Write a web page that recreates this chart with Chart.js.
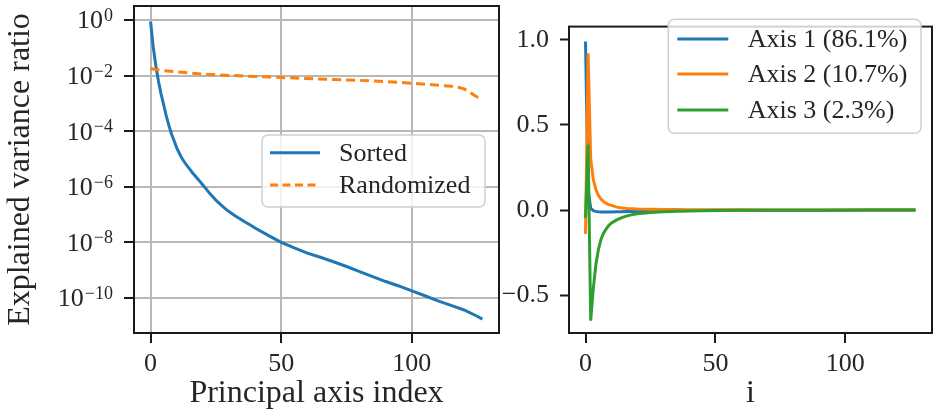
<!DOCTYPE html>
<html><head><meta charset="utf-8">
<script src="https://cdn.jsdelivr.net/npm/chart.js@4"></script>
<style>
html,body{margin:0;padding:0;background:#fff;}
body{width:938px;height:416px;position:relative;overflow:hidden;}
#c1{position:absolute;left:0;top:0;}
#c2{position:absolute;left:490px;top:0;}
</style></head><body>
<canvas id="c1" width="510" height="416"></canvas>
<canvas id="c2" width="448" height="416"></canvas>
<script>
const FONT = "'Liberation Serif', 'Times New Roman', serif";

// ---- left panel data ----
const sortedIdx = [0,1,2,3,4,5,6,7,8,9,10,11,12,13,14,15,16,17,18,19,20,21,22,23,24,25,26,27,28,29,30,32,34,36,38,40,45,50,55,60,65,70,75,80,85,90,95,100,105,110,115,120,125,127];
const sortedRatio = [0.861,0.107,0.023,6.3e-3,2.2e-3,8.9e-4,3.5e-4,1.6e-4,7.9e-5,4.5e-5,2.5e-5,1.6e-5,1.05e-5,7.6e-6,5.6e-6,4.3e-6,3.2e-6,2.5e-6,1.95e-6,1.5e-6,1.15e-6,8.9e-7,6.8e-7,5.3e-7,4.2e-7,3.3e-7,2.7e-7,2.2e-7,1.8e-7,1.5e-7,1.29e-7,9.5e-8,7.2e-8,5.5e-8,4.3e-8,3.3e-8,1.78e-8,1.0e-8,6.3e-9,4.1e-9,2.9e-9,2.0e-9,1.35e-9,8.9e-10,5.9e-10,3.9e-10,2.7e-10,1.8e-10,1.2e-10,7.9e-11,5.4e-11,3.7e-11,2.2e-11,1.74e-11];
const randIdx = [0,2,5,10,20,30,40,50,60,70,80,90,100,110,115,118,120,122,124,126,127];
const randRatio = [0.018,0.0165,0.0148,0.0135,0.0112,0.0101,0.0093,0.0085,0.0078,0.0072,0.0067,0.0060,0.0053,0.0045,0.0041,0.0037,0.0033,0.0026,0.0019,0.0015,0.0013];
const leftYTicks = [1, 1e-2, 1e-4, 1e-6, 1e-8, 1e-10];
const xTicks = [0, 50, 100];
const leftLegend = ['Sorted', 'Randomized'];

// ---- right panel data ----
const axisIdx = [0,1,2,3,4,5,6,7,8,9,10,12,14,16,18,20,25,30,35,40,50,60,70,80,90,100,110,120,127];
const axis1 = [0.99,0.12,0.01,-0.004,-0.008,-0.010,-0.011,-0.011,-0.011,-0.011,-0.011,-0.010,-0.010,-0.009,-0.008,-0.008,-0.006,-0.005,-0.004,-0.003,-0.002,-0.0015,-0.001,-0.0008,-0.0006,-0.0005,-0.0004,-0.0003,-0.0003];
const axis2 = [-0.14,0.92,0.30,0.18,0.12,0.085,0.063,0.049,0.039,0.032,0.027,0.017,0.012,0.009,0.0075,0.006,0.004,0.003,0.0025,0.002,0.0015,0.0012,0.0009,0.0007,0.0006,0.0005,0.0004,0.0003,0.0003];
const axis3 = [-0.045,0.385,-0.65,-0.46,-0.32,-0.23,-0.17,-0.135,-0.11,-0.09,-0.076,-0.058,-0.044,-0.034,-0.027,-0.022,-0.014,-0.010,-0.007,-0.005,-0.003,-0.002,-0.0015,-0.001,-0.0008,-0.0006,-0.0005,-0.0004,-0.0003];
const rightYTicks = [-0.5, 0, 0.5, 1.0];
const rightLegend = ['Axis 1 (86.1%)', 'Axis 2 (10.7%)', 'Axis 3 (2.3%)'];

const BLUE = '#1f77b4', ORANGE = '#ff7f0e', GREEN = '#2ca02c';
const INK = '#262626';

Chart.defaults.font.family = FONT;
Chart.defaults.color = INK;

function pts(xs, ys) { return xs.map((x, k) => ({x: x, y: ys[k]})); }

function roundRect(ctx, x, y, w, h, r) {
  ctx.beginPath();
  ctx.moveTo(x + r, y);
  ctx.lineTo(x + w - r, y); ctx.arcTo(x + w, y, x + w, y + r, r);
  ctx.lineTo(x + w, y + h - r); ctx.arcTo(x + w, y + h, x + w - r, y + h, r);
  ctx.lineTo(x + r, y + h); ctx.arcTo(x, y + h, x, y + h - r, r);
  ctx.lineTo(x, y + r); ctx.arcTo(x, y, x + r, y, r);
  ctx.closePath();
}

// frame (spines) + legend plugin
function framePlugin(legendCfg) {
  return {
    id: 'frameLegend',
    afterDatasetsDraw(chart) {
      const ctx = chart.ctx, a = chart.chartArea;
      ctx.save();
      ctx.strokeStyle = '#1a1a1a'; ctx.lineWidth = 2;
      ctx.strokeRect(a.left, a.top, a.right - a.left, a.bottom - a.top);
      const L = legendCfg;
      roundRect(ctx, L.x, L.y, L.w, L.h, 6);
      ctx.fillStyle = 'rgba(255,255,255,0.8)'; ctx.fill();
      ctx.strokeStyle = '#d0d0d0'; ctx.lineWidth = 1.5; ctx.stroke();
      L.items.forEach((it, k) => {
        const yy = L.rows[k];
        ctx.beginPath();
        ctx.setLineDash(it.dash || []);
        ctx.strokeStyle = it.color; ctx.lineWidth = 3;
        ctx.moveTo(L.sx0, yy); ctx.lineTo(L.sx1, yy); ctx.stroke();
        ctx.setLineDash([]);
        ctx.fillStyle = INK; ctx.font = '26px ' + FONT;
        ctx.textBaseline = 'middle'; ctx.textAlign = 'left';
        ctx.fillText(it.label, L.tx, yy + 1);
      });
      ctx.restore();
    }
  };
}

// log tick labels with superscripts
const logLabelPlugin = {
  id: 'logLabels',
  afterDraw(chart) {
    const ctx = chart.ctx, ys = chart.scales.y;
    ctx.save();
    ctx.fillStyle = INK; ctx.textAlign = 'left'; ctx.textBaseline = 'alphabetic';
    leftYTicks.forEach(v => {
      const py = ys.getPixelForValue(v);
      const e = Math.round(Math.log10(v));
      const exp = e === 0 ? '0' : '\u2212' + Math.abs(e);
      ctx.font = '26px ' + FONT; const wb = ctx.measureText('10').width;
      ctx.font = '18px ' + FONT; const we = ctx.measureText(exp).width;
      const right = chart.chartArea.left - 21;
      const x0 = right - wb - we - 1;
      ctx.font = '26px ' + FONT; ctx.fillText('10', x0, py + 8.5);
      ctx.font = '18px ' + FONT; ctx.fillText(exp, x0 + wb + 1, py + 1);
    });
    ctx.restore();
  }
};

function xScale(title, gridOn) {
  return {
    type: 'linear', min: -6.35, max: 133.35,
    afterBuildTicks: s => { s.ticks = xTicks.map(v => ({value: v})); },
    afterFit: s => { s.height = 83; },
    ticks: { font: {size: 26}, color: INK, padding: 6, autoSkip: false, maxRotation: 0, callback: v => String(v) },
    grid: { display: true, drawOnChartArea: gridOn, color: '#b8b8b8', lineWidth: 2, tickColor: '#1a1a1a', tickWidth: 2, tickLength: 10 },
    border: { display: false },
    title: { display: true, text: title, font: {size: 32}, color: INK, padding: {top: 0, bottom: 3} }
  };
}

new Chart(document.getElementById('c1'), {
  type: 'line',
  data: {
    datasets: [
      { label: leftLegend[0], data: pts(sortedIdx, sortedRatio), borderColor: BLUE, borderWidth: 3, pointRadius: 0, tension: 0, fill: false, order: 1 },
      { label: leftLegend[1], data: pts(randIdx, randRatio), borderColor: ORANGE, borderWidth: 3, borderDash: [9, 5], pointRadius: 0, tension: 0, fill: false, order: 0 }
    ]
  },
  options: {
    responsive: false, animation: false, events: [],
    layout: { padding: { top: 6, right: 11, bottom: 0, left: 0 } },
    plugins: { legend: { display: false }, tooltip: { enabled: false } },
    scales: {
      x: xScale('Principal axis index', true),
      y: {
        type: 'logarithmic', min: Math.pow(10, -11.26), max: Math.pow(10, 0.5),
        afterBuildTicks: s => { s.ticks = leftYTicks.map(v => ({value: v})); },
        afterFit: s => { s.width = 134; },
        ticks: { display: false },
        grid: { color: '#b8b8b8', lineWidth: 2, tickColor: '#1a1a1a', tickWidth: 2, tickLength: 10 },
        border: { display: false },
        title: { display: true, text: 'Explained variance ratio', font: {size: 32}, color: INK, padding: {top: 1, bottom: 0} }
      }
    }
  },
  plugins: [framePlugin({
    x: 262, y: 135, w: 223, h: 72, sx0: 270, sx1: 320, tx: 339, rows: [152.7, 185],
    items: [{label: leftLegend[0], color: BLUE}, {label: leftLegend[1], color: ORANGE, dash: [8, 4.5]}]
  }), logLabelPlugin]
});

new Chart(document.getElementById('c2'), {
  type: 'line',
  data: {
    datasets: [
      { label: rightLegend[0], data: pts(axisIdx, axis1), borderColor: BLUE, borderWidth: 3, pointRadius: 0, tension: 0, fill: false, order: 2 },
      { label: rightLegend[1], data: pts(axisIdx, axis2), borderColor: ORANGE, borderWidth: 3, pointRadius: 0, tension: 0, fill: false, order: 1 },
      { label: rightLegend[2], data: pts(axisIdx, axis3), borderColor: GREEN, borderWidth: 3, pointRadius: 0, tension: 0, fill: false, order: 0 }
    ]
  },
  options: {
    responsive: false, animation: false, events: [],
    layout: { padding: { top: 6, right: 6, bottom: 0, left: 0 } },
    plugins: { legend: { display: false }, tooltip: { enabled: false } },
    scales: {
      x: xScale('i', false),
      y: {
        type: 'linear', min: -0.722, max: 1.077,
        afterBuildTicks: s => { s.ticks = rightYTicks.map(v => ({value: v})); },
        afterFit: s => { s.width = 79; },
        ticks: { font: {size: 26}, color: INK, padding: 11, callback: v => (v < 0 ? '\u2212' : '') + Math.abs(v).toFixed(1) },
        grid: { drawOnChartArea: false, tickColor: '#1a1a1a', tickWidth: 2, tickLength: 9 },
        border: { display: false }
      }
    }
  },
  plugins: [framePlugin({
    x: 178.3, y: 19.3, w: 252.7, h: 114, sx0: 187.3, sx1: 238.3, tx: 257.7, rows: [39, 74, 110],
    items: [{label: rightLegend[0], color: BLUE}, {label: rightLegend[1], color: ORANGE}, {label: rightLegend[2], color: GREEN}]
  })]
});
</script>
</body></html>
